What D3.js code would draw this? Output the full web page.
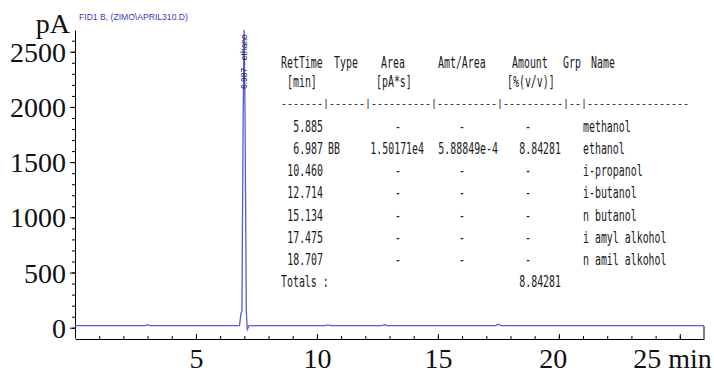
<!DOCTYPE html>
<html>
<head>
<meta charset="utf-8">
<script src="https://cdn.jsdelivr.net/npm/d3@7"></script>
<style>
  body { margin: 0; background: #fff; }
  svg { display: block; }
</style>
</head>
<body>
<div class="canvas"></div>
<script>
// chromatogram trace (min, pA)
const times  = [0, 2.9, 3.0, 3.1, 6.80, 6.86, 6.90, 6.95, 6.99, 7.03, 7.08, 7.12, 7.20, 10.35, 10.45, 10.55, 12.7, 12.8, 12.9, 17.4, 17.5, 17.6, 26];
const signal = [20, 20, 28, 20, 20, 130, 150, 1900, 2700, 1900, 160, -15, 20, 20, 26, 20, 20, 28, 20, 20, 32, 20, 20];

const yTicks = [0, 500, 1000, 1500, 2000, 2500];
const xTicks = [5, 10, 15, 20, 25];
const xTickLabels = ['5', '10', '15', '20', '25 min'];

// report table
const retTimes  = ['5.885', '6.987', '10.460', '12.714', '15.134', '17.475', '18.707'];
const peakTypes = ['', 'BB', '', '', '', '', ''];
const areas     = ['-', '1.50171e4', '-', '-', '-', '-', '-'];
const amtAreas  = ['-', '5.88849e-4', '-', '-', '-', '-', '-'];
const amounts   = ['-', '8.84281', '-', '-', '-', '-', '-'];
const compounds = ['methanol', 'ethanol', 'i-propanol', 'i-butanol', 'n butanol', 'i amyl alkohol', 'n amil alkohol'];
const totalAmount = '8.84281';

const width = 714, height = 374;

const svg = d3.select('.canvas')
    .append('svg')
        .attr('width', width)
        .attr('height', height);

const x = d3.scaleLinear().domain([0, 26]).range([75, 704]);
const y = d3.scaleLinear().domain([-93, 2697]).range([338, 30]);

const serif = '"Liberation Serif", "Times New Roman", serif';

// title
svg.append('text')
    .attr('x', 79).attr('y', 19.5)
    .attr('font-family', 'Liberation Sans, Arial, sans-serif')
    .attr('font-size', 8.6)
    .attr('fill', '#3b3bbf')
    .text('FID1 B,  (ZIMO\\APRIL310.D)');

svg.append('text')
    .attr('x', 70).attr('y', 33)
    .attr('text-anchor', 'end')
    .attr('font-family', serif)
    .attr('font-size', 28)
    .attr('fill', '#111')
    .text('pA');

// y axis, minor then major
const yMinor = svg.append('g')
    .attr('transform', `translate(${x(0)},0)`)
    .call(d3.axisLeft(y).tickValues(d3.range(0, 2700, 100)).tickSize(3).tickFormat(''));
yMinor.select('.domain').remove();

const yAxisGroup = svg.append('g')
    .attr('transform', `translate(${x(0)},0)`)
    .call(d3.axisLeft(y).tickValues(yTicks).tickSize(5).tickSizeOuter(0).tickPadding(4)
        .tickFormat(d3.format('d')));
yAxisGroup.selectAll('text')
    .attr('font-family', serif).attr('font-size', 28).attr('fill', '#111').attr('dy', '0.34em');

// x axis, ticks pointing up
const xMinor = svg.append('g')
    .attr('transform', `translate(0,${y.range()[0] + 1})`)
    .call(d3.axisBottom(x).tickValues(d3.range(1, 26, 1)).tickSize(-3).tickFormat(''));
xMinor.select('.domain').remove();

const xAxisGroup = svg.append('g')
    .attr('transform', `translate(0,${y.range()[0] + 1})`)
    .call(d3.axisBottom(x).tickValues(xTicks).tickSize(-5).tickSizeOuter(0).tickPadding(9)
        .tickFormat((d, i) => xTickLabels[i]));
xAxisGroup.selectAll('text')
    .attr('font-family', serif).attr('font-size', 28).attr('fill', '#111');
xAxisGroup.selectAll('.tick text')
    .attr('dx', d => d === 25 ? -47 : (d === 20 ? -6 : 0))
    .attr('text-anchor', d => d === 25 ? 'start' : 'middle');

// right end mark
svg.append('line')
    .attr('x1', x(26)).attr('x2', x(26))
    .attr('y1', y.range()[0] + 1).attr('y2', y.range()[0] - 12)
    .attr('stroke', '#000');

// trace
const line = d3.line().x(d => x(d[0])).y(d => y(d[1]));
svg.append('path')
    .datum(d3.zip(times, signal))
    .attr('d', line)
    .attr('fill', 'none')
    .attr('stroke', '#5a5ad8')
    .attr('stroke-width', 1.3);

// peak label
svg.append('text')
    .attr('transform', `translate(${x(6.987) + 3},89) rotate(-90)`)
    .attr('font-family', 'Liberation Sans, Arial, sans-serif')
    .attr('font-size', 8.5)
    .attr('fill', '#1c1c6a')
    .text('6.987 - ethano');

// report table, condensed monospace
const sx = 0.62;
const table = svg.append('g')
    .attr('transform', `scale(${sx},1)`)
    .attr('font-family', '"DejaVu Sans Mono", monospace')
    .attr('font-size', 16)
    .attr('fill', '#1a1a1a');

function cell(txt, px, py, anchor) {
    table.append('text')
        .attr('x', px / sx).attr('y', py)
        .attr('text-anchor', anchor || 'start')
        .text(txt);
}

const header = [['RetTime', 281], ['Type', 334], ['Area', 381], ['Amt/Area', 438], ['Amount', 512], ['Grp', 563], ['Name', 591]];
header.forEach(h => cell(h[0], h[1], 68));
[['[min]', 287], ['[pA*s]', 376], ['[%(v/v)]', 507]].forEach(h => cell(h[0], h[1], 87));

// separator row, unscaled so the bars stay crisp
svg.append('text')
    .attr('x', 281).attr('y', 107)
    .attr('font-family', '"Liberation Mono", monospace')
    .attr('font-size', 10)
    .attr('fill', '#1a1a1a')
    .text('-------|------|----------|----------|----------|--|-----------------');

const rowY = d3.scalePoint().domain(d3.range(retTimes.length + 1)).range([132, 287]);

retTimes.forEach((t, i) => {
    const yy = rowY(i);
    cell(t, 323, yy, 'end');
    if (peakTypes[i]) cell(peakTypes[i], 328, yy);
    areas[i] === '-' ? cell('-', 398, yy, 'middle') : cell(areas[i], 424, yy, 'end');
    amtAreas[i] === '-' ? cell('-', 462, yy, 'middle') : cell(amtAreas[i], 498, yy, 'end');
    amounts[i] === '-' ? cell('-', 528, yy, 'middle') : cell(amounts[i], 561, yy, 'end');
    cell(compounds[i], 583, yy);
});
cell('Totals :', 281, rowY(retTimes.length));
cell(totalAmount, 561, rowY(retTimes.length), 'end');
</script>
</body>
</html>
